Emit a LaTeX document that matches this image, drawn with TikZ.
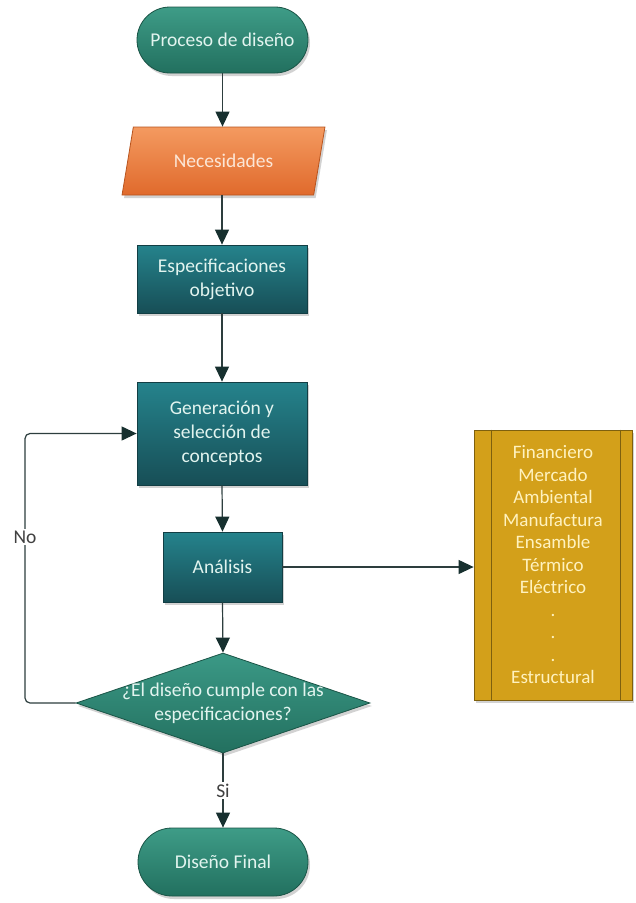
\documentclass[tikz,border=0pt]{standalone}
\usepackage{fontspec}
\setmainfont{Carlito}
\usetikzlibrary{shapes.geometric,shapes.misc,arrows.meta,shadows,calc}

\definecolor{pillTop}{HTML}{3E9C87}
\definecolor{pillBot}{HTML}{22705F}
\definecolor{pillEdge}{HTML}{1A5446}
\definecolor{boxTop}{HTML}{25838C}
\definecolor{boxBot}{HTML}{174E56}
\definecolor{boxEdge}{HTML}{123E44}
\definecolor{orTop}{HTML}{F49A60}
\definecolor{orBot}{HTML}{E06A2C}
\definecolor{orEdge}{HTML}{B8541E}
\definecolor{dmTop}{HTML}{3B9986}
\definecolor{dmBot}{HTML}{23705F}
\definecolor{yelFill}{HTML}{D3A01A}
\definecolor{yelEdge}{HTML}{7E600E}
\definecolor{lineC}{HTML}{2D3E3E}
\definecolor{tipC}{HTML}{17302F}
\definecolor{txtL}{HTML}{E2F4EF}
\definecolor{txtO}{HTML}{FCE6D6}
\definecolor{txtY}{HTML}{FFF2BF}

\begin{document}
\begin{tikzpicture}[x=1pt,y=-1pt,
  font=\fontsize{19.5}{24}\selectfont,
  shdw/.style={drop shadow={shadow xshift=2pt,shadow yshift=-3pt,opacity=0.35}},
  pill/.style={rounded rectangle, draw=pillEdge, line width=0.8pt, top color=pillTop, bottom color=pillBot, text=txtL, minimum width=171pt, minimum height=66pt, inner sep=0pt, shdw},
  para/.style={trapezium, trapezium left angle=65.5, trapezium right angle=114.5, trapezium stretches=true, minimum width=203pt, minimum height=68pt, inner sep=0pt, draw=orEdge, line width=0.8pt, top color=orTop, bottom color=orBot, text=txtO, shdw},
  procbox/.style={rectangle, draw=boxEdge, line width=0.8pt, top color=boxTop, bottom color=boxBot, text=txtL, align=center, inner sep=0pt, shdw},
  dmd/.style={diamond, draw=pillEdge, line width=0.8pt, top color=dmTop, bottom color=dmBot, minimum width=294pt, minimum height=100pt, inner sep=0pt, shdw},
  ybox/.style={rectangle, draw=yelEdge, line width=0.8pt, fill=yelFill, text=txtY, align=center, inner sep=0pt, minimum width=158pt, minimum height=270pt, font=\fontsize{19}{22.5}\selectfont, shdw},
  arr/.style={draw=lineC, line width=1.2pt, -{Triangle[length=15pt,width=14pt,color=tipC,fill=tipC]}},
  lbl/.style={fill=white, inner sep=1.5pt, text=black!75},
]
\fill[white] (0,0) rectangle (636,903);
\useasboundingbox (0,0) rectangle (636,903);

\node[pill] (start) at (222.5,40) {Proceso de diseño};
\node[para] (nec) at (223.5,161) {Necesidades};
\node[procbox, minimum width=170pt, minimum height=68pt] (spec) at (222,279) {Especificaciones\\objetivo};
\node[procbox, minimum width=170pt, minimum height=103pt] (gen) at (222,433.5) {Generación y\\selección de\\conceptos};
\node[procbox, minimum width=119pt, minimum height=70pt] (ana) at (222.5,567) {Análisis};
\node[dmd] (dec) at (223,703) {};
\node[text=txtL, align=center, inner sep=0pt] (dectxt) at (dec.center) {¿El diseño cumple con las\\especificaciones?};
\node[pill, minimum width=170pt, minimum height=68pt] (fin) at (223,862) {Diseño Final};
\node[ybox] (lst) at (553,565) {Financiero\\Mercado\\Ambiental\\Manufactura\\Ensamble\\Térmico\\Eléctrico\\.\\.\\.\\Estructural};
\draw[yelEdge, line width=0.8pt] ($(lst.north west)+(18,0)$) -- ($(lst.south west)+(18,0)$);
\draw[yelEdge, line width=0.8pt] ($(lst.north east)+(-12,0)$) -- ($(lst.south east)+(-12,0)$);

\draw[arr] (start.south) -- (start.south |- nec.north);
\draw[arr] (spec.north |- nec.south) -- (spec.north);
\draw[arr] (spec.south) -- (gen.north);
\draw[arr] (gen.south) -- (ana.north);
\draw[arr] (ana.south) -- (dec.north);
\draw[arr] (ana.east) -- (ana.east -| lst.west);

\coordinate (loopB) at (25,703);
\coordinate (loopT) at (25,433.5);
\draw[arr, rounded corners=5pt] (dec.west) -- (loopB) -- (loopT) -- (gen.west);
\node[lbl] (no) at (25,537) {No};

\draw[arr] (dec.south) -- (fin.north) node[lbl, pos=0.5] (si) {Si};
\end{tikzpicture}
\end{document}
